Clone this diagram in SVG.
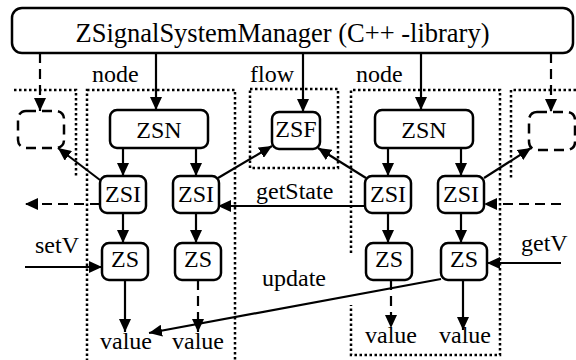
<svg xmlns="http://www.w3.org/2000/svg" width="576" height="360" viewBox="0 0 576 360" font-family="'Liberation Serif', 'Times New Roman', Times, 'DejaVu Serif', serif">
<defs>
<marker id="ah" markerUnits="userSpaceOnUse" markerWidth="13" markerHeight="12" refX="13" refY="6" orient="auto" viewBox="0 0 13 12">
<path d="M0,0 L13,6 L0,12 z" fill="#000" stroke="none"/>
</marker>
</defs>
<style>
text{font-family:'Liberation Serif','Times New Roman',Times,'DejaVu Serif',serif;font-size:24px;fill:#000}
.c{text-anchor:middle}
.box{fill:#fff;stroke:#000;stroke-width:2.5}
.dbox{fill:#fff;stroke:#000;stroke-width:2.5;stroke-dasharray:10,6}
.dot{fill:none;stroke:#000;stroke-width:2.5;stroke-dasharray:2.5,2.5}
.ln{fill:none;stroke:#000;stroke-width:2.2;marker-end:url(#ah)}
.dl{fill:none;stroke:#000;stroke-width:2.2;stroke-dasharray:10,6;marker-end:url(#ah)}
</style>
<rect width="576" height="360" fill="#fff"/>
<g id="groups">
<path class="dot" d="M14,90 H76 V178"/>
<path class="dot" d="M576,90 H511 V178"/>
<rect class="dot" x="87" y="90" width="148" height="290"/>
<rect class="dot" x="250" y="89" width="88" height="79"/>
<path class="dot" d="M351,253 V90 H500 V355 H351 V305"/>
<text x="92" y="82">node</text>
<text x="250" y="82">flow</text>
<text x="356" y="82">node</text>
</g>
<g id="connectors">
<path class="dl" d="M40,53 V111"/>
<path class="ln" d="M156,53 V110"/>
<path class="ln" d="M303,53 V112"/>
<path class="ln" d="M421,53 V110"/>
<path class="dl" d="M551,53 V112"/>
<path class="ln" d="M123,148 V176"/>
<path class="ln" d="M196,148 V176"/>
<path class="ln" d="M388,148 V176"/>
<path class="ln" d="M461,148 V176"/>
<path class="ln" d="M100,180 L58,148"/>
<path class="ln" d="M218,178 L272,146"/>
<path class="ln" d="M366,178 L318,148"/>
<path class="ln" d="M484,178 L531,148"/>
<path class="dl" d="M100,204 H25"/>
<path class="ln" d="M365,206 H218"/>
<path class="dl" d="M561,204 H484"/>
<path class="ln" d="M123,213 V243"/>
<path class="ln" d="M196,213 V243"/>
<path class="ln" d="M388,213 V243"/>
<path class="ln" d="M461,213 V243"/>
<path class="ln" d="M25,267 H102"/>
<path class="ln" d="M561,263 H487"/>
<path class="ln" d="M125,280 V332"/>
<path class="dl" d="M198,280 V332"/>
<path class="dl" d="M391,280 V328"/>
<path class="ln" d="M463,280 V330"/>
<path class="ln" d="M441,279 L149,333"/>
<text x="256" y="199">getState</text>
<text x="35" y="253">setV</text>
<text x="521" y="251">getV</text>
<text x="262" y="286">update</text>
</g>
<g id="manager">
<rect class="box" x="12" y="8" width="561" height="45" rx="10"/>
<text class="c" x="282.5" y="42" style="font-size:26.5px">ZSignalSystemManager (C++ -library)</text>
</g>
<g id="ext-left"><rect class="dbox" x="18" y="111" width="46" height="37" rx="8"/></g>
<g id="ext-right"><rect class="dbox" x="529" y="112" width="46" height="38" rx="8"/></g>
<g id="zsn-left"><rect class="box" x="110" y="110" width="98" height="38" rx="7"/><text class="c" x="159" y="138">ZSN</text></g>
<g id="zsn-right"><rect class="box" x="375" y="110" width="98" height="38" rx="7"/><text class="c" x="424" y="138">ZSN</text></g>
<g id="zsf"><rect class="box" x="272" y="112" width="48" height="37" rx="7"/><text class="c" x="296" y="137">ZSF</text></g>
<g id="zsi-1"><rect class="box" x="100" y="176" width="46" height="37" rx="7"/><text class="c" x="123" y="202">ZSI</text></g>
<g id="zsi-2"><rect class="box" x="173" y="176" width="46" height="37" rx="7"/><text class="c" x="196" y="202">ZSI</text></g>
<g id="zsi-3"><rect class="box" x="365" y="176" width="46" height="37" rx="7"/><text class="c" x="388" y="202">ZSI</text></g>
<g id="zsi-4"><rect class="box" x="438" y="176" width="46" height="37" rx="7"/><text class="c" x="461" y="202">ZSI</text></g>
<g id="zs-1"><rect class="box" x="102" y="243" width="46" height="37" rx="7"/><text class="c" x="125" y="267">ZS</text></g>
<g id="zs-2"><rect class="box" x="175" y="243" width="46" height="37" rx="7"/><text class="c" x="198" y="267">ZS</text></g>
<g id="zs-3"><rect class="box" x="366" y="243" width="46" height="37" rx="7"/><text class="c" x="389" y="267">ZS</text></g>
<g id="zs-4"><rect class="box" x="441" y="243" width="46" height="37" rx="7"/><text class="c" x="464" y="267">ZS</text></g>
<g id="values">
<text class="c" x="126" y="349">value</text>
<text class="c" x="198" y="349">value</text>
<text class="c" x="391" y="343">value</text>
<text class="c" x="465" y="343">value</text>
</g>
</svg>
